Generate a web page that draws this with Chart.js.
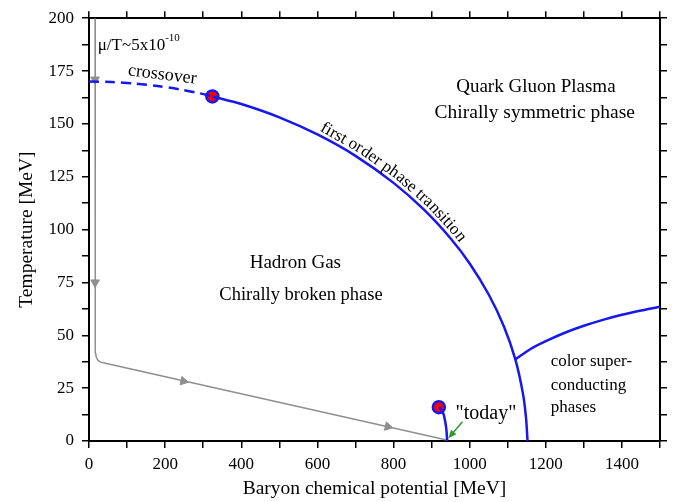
<!DOCTYPE html>
<html lang="en">
<head>
<meta charset="UTF-8">
<title>QCD phase diagram</title>
<script src="https://cdn.jsdelivr.net/npm/chart.js"></script>
<style>
  html, body { margin: 0; padding: 0; background: #fff; }
</style>
</head>
<body>
<canvas id="phaseChart" width="678" height="502"></canvas>
<script>
// values: mu = baryon chemical potential, T = temperature (MeV)
const crossoverMu = [0, 60, 120, 180, 240, 290, 324];
const crossoverT = [170, 169.8, 169.1, 167.9, 166.3, 164.5, 163];

const transitionMu = [324, 400, 500, 600, 700, 800, 880, 950, 1000, 1050, 1090, 1120, 1140, 1148, 1152];
const transitionT = [163, 159.4, 153.1, 145, 134.9, 122.1, 109.4, 95.8, 84, 69.3, 54.2, 38.6, 22.4, 11, 0];

const cscMu = [1120, 1160, 1200, 1250, 1300, 1350, 1400, 1450, 1500];
const cscT = [38.6, 43.5, 47.2, 51.2, 54.5, 57.3, 59.7, 61.7, 63.5];

const todayMu = [941, 939, 936, 931, 925, 919];
const todayT = [0, 5, 9, 13, 15, 16];

const pathMu = [16, 16, 17, 19.5, 24, 31, 40, 940];
const pathT = [200, 46, 42, 39.5, 38, 37.3, 36.9, 0.5];

const arrowMu = [16, 16, 248, 785];
const arrowT = [171, 75, 28.3, 6.8];
const arrowTurn = [180, 180, 102.7, 102.7];

const criticalMu = [324, 919];
const criticalT = [163, 16];

const xTicks = [0, 200, 400, 600, 800, 1000, 1200, 1400];
const yTicks = [0, 25, 50, 75, 100, 125, 150, 175, 200];

const pts = (xs, ys) => xs.map((x, i) => ({ x: x, y: ys[i] }));

const blue = '#1717ee';
const grey = '#8f8f8f';
const serif = "'Liberation Serif', 'Times New Roman', serif";

// text placed in data units
const notes = [
  { text: 'crossover', x: 191, y: 171, size: 18, align: 'center', rot: 7 },
  { text: 'Quark Gluon Plasma', x: 1174, y: 165.2, size: 19, align: 'center' },
  { text: 'Chirally symmetric phase', x: 1171, y: 152.7, size: 19.5, align: 'center' },
  { text: 'Hadron Gas', x: 542, y: 81.6, size: 19, align: 'center' },
  { text: 'Chirally broken phase', x: 557, y: 66.8, size: 18.5, align: 'center' },
  { text: 'color super-', x: 1213, y: 35.5, size: 17, align: 'left' },
  { text: 'conducting', x: 1213, y: 24.3, size: 17, align: 'left' },
  { text: 'phases', x: 1213, y: 13.8, size: 17, align: 'left' },
  { text: '"today"', x: 963, y: 10.4, size: 20, align: 'left' }
];

const notesPlugin = {
  id: 'notes',
  afterDatasetsDraw(chart) {
    const ctx = chart.ctx;
    const xs = chart.scales.x, ys = chart.scales.y;
    ctx.save();
    ctx.fillStyle = '#000';
    ctx.textBaseline = 'alphabetic';

    notes.forEach(n => {
      ctx.save();
      ctx.font = n.size + 'px ' + serif;
      ctx.textAlign = n.align;
      ctx.translate(xs.getPixelForValue(n.x), ys.getPixelForValue(n.y));
      if (n.rot) ctx.rotate(n.rot * Math.PI / 180);
      ctx.fillText(n.text, 0, 0);
      ctx.restore();
    });

    // mu/T label with superscript
    let px = xs.getPixelForValue(23), py = ys.getPixelForValue(184.8);
    ctx.textAlign = 'left';
    ctx.font = '17px ' + serif;
    ctx.fillText('\u03bc/T~5x10', px, py);
    const w = ctx.measureText('\u03bc/T~5x10').width;
    ctx.font = '11px ' + serif;
    ctx.fillText('-10', px + w, py - 9);

    // text following the first order line
    const meta = chart.getDatasetMeta(1).data;
    const line = meta.map(p => [p.x, p.y]);
    const seg = [0];
    for (let i = 1; i < line.length; i++) {
      seg.push(seg[i - 1] + Math.hypot(line[i][0] - line[i - 1][0], line[i][1] - line[i - 1][1]));
    }
    const at = s => {
      let i = 1;
      while (i < line.length - 1 && seg[i] < s) i++;
      const a = line[i - 1], b = line[i];
      const f = (s - seg[i - 1]) / (seg[i] - seg[i - 1]);
      const len = seg[i] - seg[i - 1];
      return { x: a[0] + (b[0] - a[0]) * f, y: a[1] + (b[1] - a[1]) * f,
               tx: (b[0] - a[0]) / len, ty: (b[1] - a[1]) / len };
    };
    ctx.font = '17px ' + serif;
    ctx.textAlign = 'left';
    let s = 112;
    for (const ch of 'first order phase transition') {
      const cw = ctx.measureText(ch).width;
      const p = at(s + cw / 2);
      const ang = Math.atan2(p.ty, p.tx);
      ctx.save();
      ctx.translate(p.x + p.ty * 4.5, p.y - p.tx * 4.5);
      ctx.rotate(ang);
      ctx.fillText(ch, -cw / 2, 0);
      ctx.restore();
      s += cw;
    }

    // green arrow pointing at "today"
    const x0 = xs.getPixelForValue(981), y0 = ys.getPixelForValue(9.1);
    const x1 = xs.getPixelForValue(944), y1 = ys.getPixelForValue(1.3);
    const a = Math.atan2(y1 - y0, x1 - x0);
    ctx.strokeStyle = '#2f9a2f';
    ctx.fillStyle = '#2f9a2f';
    ctx.lineWidth = 1.5;
    ctx.beginPath();
    ctx.moveTo(x0, y0);
    ctx.lineTo(x1 - Math.cos(a) * 6, y1 - Math.sin(a) * 6);
    ctx.stroke();
    ctx.beginPath();
    ctx.moveTo(x1, y1);
    ctx.lineTo(x1 - Math.cos(a - 0.4) * 9, y1 - Math.sin(a - 0.4) * 9);
    ctx.lineTo(x1 - Math.cos(a + 0.4) * 9, y1 - Math.sin(a + 0.4) * 9);
    ctx.closePath();
    ctx.fill();
    ctx.restore();
  }
};

const tickFont = { family: serif, size: 17 };
const frame = { color: '#000', width: 2 };
const marks = { drawOnChartArea: false, color: '#000', tickLength: 7, lineWidth: 1.5 };

new Chart(document.getElementById('phaseChart'), {
  type: 'scatter',
  data: {
    datasets: [
      { data: pts(crossoverMu, crossoverT), showLine: true, borderColor: blue, borderWidth: 2.5,
        borderDash: [10, 6], pointRadius: 0, tension: 0.3 },
      { data: pts(transitionMu, transitionT), showLine: true, borderColor: blue, borderWidth: 2.5,
        pointRadius: 0, tension: 0.3 },
      { data: pts(cscMu, cscT), showLine: true, borderColor: blue, borderWidth: 2.5,
        pointRadius: 0, tension: 0.3 },
      { data: pts(todayMu, todayT), showLine: true, borderColor: blue, borderWidth: 2.5,
        pointRadius: 0, tension: 0.3 },
      { data: pts(pathMu, pathT), showLine: true, borderColor: grey, borderWidth: 1.5,
        pointRadius: 0, tension: 0 },
      { data: pts(arrowMu, arrowT), pointStyle: 'triangle', rotation: arrowTurn, pointRadius: 5,
        backgroundColor: grey, borderColor: grey, borderWidth: 1 },
      { data: pts(criticalMu, criticalT), pointRadius: 6, backgroundColor: '#ff0000',
        borderColor: blue, borderWidth: 2.5 }
    ]
  },
  options: {
    responsive: false,
    animation: false,
    devicePixelRatio: 1,
    plugins: { legend: { display: false }, tooltip: { enabled: false } },
    layout: { padding: 0 },
    scales: {
      x: {
        type: 'linear', position: 'bottom', min: 0, max: 1500,
        afterFit: s => { s.height = 61; },
        ticks: { stepSize: 100, autoSkip: false, maxRotation: 0, color: '#000', font: tickFont, padding: 6,
          callback: v => xTicks.includes(v) ? v : '' },
        grid: marks, border: frame,
        title: { display: true, text: 'Baryon chemical potential [MeV]', color: '#000',
          font: { family: serif, size: 19.5 }, padding: { top: 0, bottom: 1 } }
      },
      x2: {
        type: 'linear', position: 'top', min: 0, max: 1500,
        afterFit: s => { s.height = 18; },
        ticks: { stepSize: 100, autoSkip: false, display: false },
        grid: marks, border: frame
      },
      y: {
        type: 'linear', position: 'left', min: 0, max: 200,
        afterFit: s => { s.width = 89; },
        ticks: { stepSize: 12.5, autoSkip: false, color: '#000', font: tickFont, padding: 8,
          callback: v => yTicks.includes(v) ? v : '' },
        grid: marks, border: frame,
        title: { display: true, text: 'Temperature [MeV]', color: '#000',
          font: { family: serif, size: 19.5 }, padding: { top: 15, bottom: 0 } }
      },
      y2: {
        type: 'linear', position: 'right', min: 0, max: 200,
        afterFit: s => { s.width = 18; },
        ticks: { stepSize: 12.5, autoSkip: false, display: false },
        grid: marks, border: frame
      }
    }
  },
  plugins: [notesPlugin]
});
</script>
</body>
</html>
